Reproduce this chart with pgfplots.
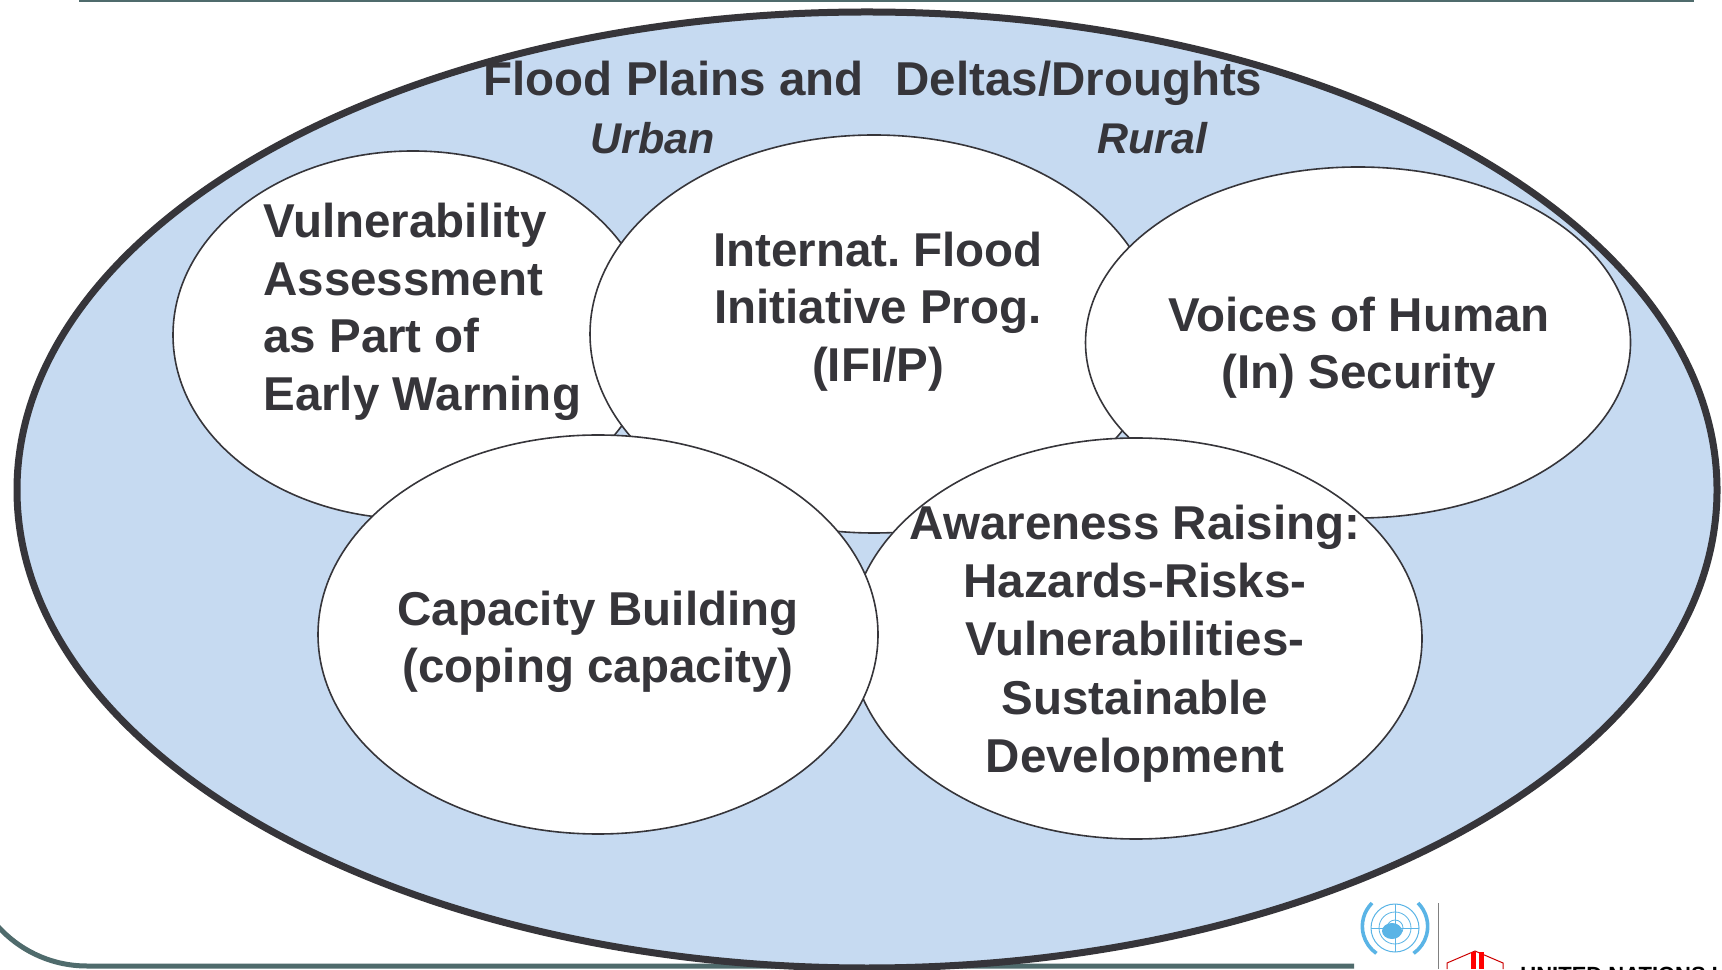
\documentclass[border=0pt]{standalone}
\usepackage{pgfplots}
\pgfplotsset{compat=1.18}
\usepackage{fontspec}
\setmainfont{Liberation Sans}
\definecolor{txt}{HTML}{36353A}
\definecolor{bluefill}{HTML}{C6DAF1}
\definecolor{framec}{HTML}{4F6B6C}
\definecolor{unblue}{HTML}{5AB4E6}
\begin{document}
\frenchspacing
\begin{tikzpicture}
\begin{axis}[scale only axis, width=861pt, height=484.5pt,
  xmin=0, xmax=1722, ymin=0, ymax=969, hide axis, clip=true]
\fill[white] (axis cs:0,0) rectangle (axis cs:1722,969);
% frame lines
\draw[framec, line width=2pt] (axis cs:79,969) -- (axis cs:1694,969);
\draw[framec, line width=2.5pt, rounded corners=60pt] (axis cs:-33,500) -- (axis cs:-33,3) -- (axis cs:1354,3);
% outer ellipse
\draw[txt, line width=3.5pt, fill=bluefill] (axis cs:867,479) ellipse [x radius=850, y radius=478];
% inner ellipses
\tikzset{inner/.style={draw=txt, line width=0.8pt, fill=white}}
\draw[inner] (axis cs:413,634) ellipse [x radius=240, y radius=184];
\draw[inner] (axis cs:874,635) ellipse [x radius=284, y radius=199];
\draw[inner] (axis cs:1358,626.5) ellipse [x radius=272.5, y radius=175.5];
\draw[inner] (axis cs:1136,330.5) ellipse [x radius=286, y radius=200.5];
\draw[inner] (axis cs:598,334.5) ellipse [x radius=280, y radius=199.5];
% texts
\tikzset{lab/.style={font=\fontsize{23.75}{28.75}\selectfont\bfseries, text=txt, inner sep=0pt}}
\node[lab, anchor=base] at (axis cs:873,873) {Flood Plains and\hspace{0.67em}Deltas/Droughts};
\node[lab, anchor=base, font=\fontsize{21.5}{26}\selectfont\bfseries\itshape] at (axis cs:653,815) {Urban};
\node[lab, anchor=base, font=\fontsize{21.5}{26}\selectfont\bfseries\itshape] at (axis cs:1152,815) {Rural};
\node[lab, anchor=base west] at (axis cs:263,731) {Vulnerability};
\node[lab, anchor=base west] at (axis cs:263,673.5) {Assessment};
\node[lab, anchor=base west] at (axis cs:263,616) {as Part of};
\node[lab, anchor=base west] at (axis cs:263,558.5) {Early Warning};
\node[lab, anchor=base] at (axis cs:878,702) {Internat. Flood};
\node[lab, anchor=base] at (axis cs:878,645) {Initiative Prog.};
\node[lab, anchor=base] at (axis cs:878,587) {(IFI/P)};
\node[lab, anchor=base] at (axis cs:1359,637) {Voices of Human};
\node[lab, anchor=base] at (axis cs:1359,580) {(In) Security};
\node[lab, anchor=base] at (axis cs:598,343) {Capacity Building};
\node[lab, anchor=base] at (axis cs:598,286) {(coping capacity)};
\node[lab, anchor=base] at (axis cs:1135,429) {Awareness Raising:};
\node[lab, anchor=base] at (axis cs:1135,371) {Hazards-Risks-};
\node[lab, anchor=base] at (axis cs:1135,313) {Vulnerabilities-};
\node[lab, anchor=base] at (axis cs:1135,255) {Sustainable};
\node[lab, anchor=base] at (axis cs:1135,197) {Development};
% logos (bottom right)
\draw[unblue, line width=0.5pt] (axis cs:1395,41) circle [radius=24];
\draw[unblue, line width=0.4pt] (axis cs:1395,41) circle [radius=16];
\draw[unblue, line width=0.4pt] (axis cs:1395,41) circle [radius=8];
\draw[unblue, line width=0.4pt] (axis cs:1371,41) -- (axis cs:1419,41);
\draw[unblue, line width=0.4pt] (axis cs:1395,17) -- (axis cs:1395,65);
\fill[unblue] (axis cs:1392,38) ellipse [x radius=10, y radius=8];
\draw[unblue, line width=1.8pt] (axis cs:1372,66) arc [start angle=135, end angle=235, radius=33];
\draw[unblue, line width=1.8pt] (axis cs:1418,66) arc [start angle=45, end angle=-55, radius=33];
\draw[gray, line width=0.5pt] (axis cs:1438,66) -- (axis cs:1438,0);
\draw[red!80!black, line width=0.5pt] (axis cs:1447,0) -- (axis cs:1447,6) -- (axis cs:1475,18) -- (axis cs:1503,6) -- (axis cs:1503,0);
\fill[red] (axis cs:1471,0) rectangle (axis cs:1476,17);
\fill[red] (axis cs:1479,0) rectangle (axis cs:1484,17);
\node[anchor=north west, inner sep=0pt, font=\fontsize{11}{12}\selectfont\bfseries] at (axis cs:1520,2) {UNITED NATIONS UNIVERSITY};
\end{axis}
\pgfresetboundingbox
\useasboundingbox (current axis.south west) rectangle (current axis.north east);
\end{tikzpicture}
\end{document}
